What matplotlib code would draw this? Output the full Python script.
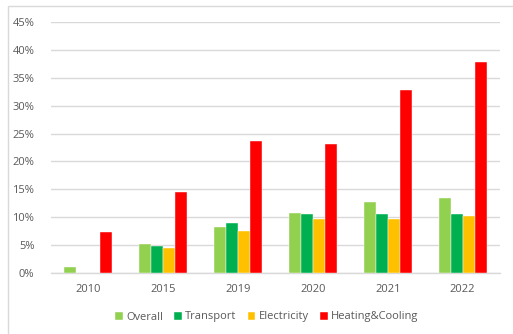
import numpy as np
import matplotlib as mpl; mpl.use('agg')
import matplotlib.pyplot as plt
from matplotlib.patches import Rectangle
from matplotlib.ticker import PercentFormatter

# data (shares in %)
years = ['2010', '2015', '2019', '2020', '2021', '2022']
overall = [1.1, 5.2, 8.3, 10.8, 12.7, 13.4]
transport = [0.0, 4.8, 9.0, 10.5, 10.5, 10.5]
electricity = [0.0, 4.4, 7.5, 9.6, 9.6, 10.2]
heating_cooling = [7.3, 14.6, 23.6, 23.1, 32.8, 37.9]

series = [
    ('Overall', overall, '#92D050'),
    ('Transport', transport, '#00B050'),
    ('Electricity', electricity, '#FFC000'),
    ('Heating&Cooling', heating_cooling, '#FF0000'),
]

plt.rcParams['font.family'] = ['Open Sans', 'DejaVu Sans']
text_color = '#595959'
grid_color = '#D9D9D9'

fig = plt.figure(figsize=(5.13, 3.34), dpi=100)
ax = fig.add_axes([51/513, 1 - 273/334, (500-51)/513, (273-22)/334])

x = np.arange(len(years))
width = 0.16
for i, (name, vals, color) in enumerate(series):
    ax.bar(x + (i - 1.5) * width, vals, width, color=color, label=name,
           edgecolor='white', linewidth=0.3, zorder=3)

ax.set_xlim(-0.5, len(years) - 0.5)
ax.set_ylim(0, 45)
ax.set_yticks(np.arange(0, 46, 5))
ax.yaxis.set_major_formatter(PercentFormatter(decimals=0))
ax.set_xticks(x)
ax.set_xticklabels(years)
ax.tick_params(axis='both', length=0, colors=text_color, labelsize=8)
ax.tick_params(axis='x', pad=8)
ax.tick_params(axis='y', pad=12)
ax.grid(axis='y', color=grid_color, linewidth=1, zorder=0)
for side in ['top', 'right', 'left']:
    ax.spines[side].set_visible(False)
ax.spines['bottom'].set_color(grid_color)
ax.spines['bottom'].set_linewidth(1)

leg = fig.legend(loc='center', bbox_to_anchor=(0.52, 1 - 317/334), ncol=4,
                 frameon=False, fontsize=8, handlelength=0.7, handleheight=0.7,
                 handletextpad=0.3, columnspacing=1.0)
for t in leg.get_texts():
    t.set_color(text_color)

# chart area border
fig.patches.append(Rectangle((8/513, -0.05), 1.1, 1 - 6/334 + 0.05,
                             transform=fig.transFigure, fill=False,
                             edgecolor='#D9D9D9', linewidth=1))

fig.savefig('out.png', dpi=100, facecolor='white')
